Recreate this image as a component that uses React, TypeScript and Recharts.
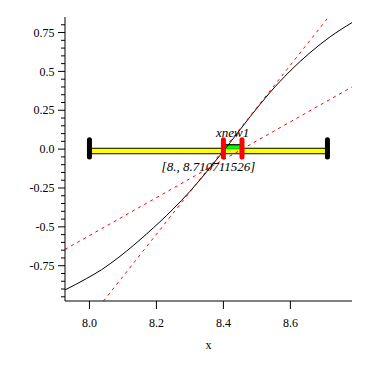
import React from "react";
import { ComposedChart, Line, XAxis, YAxis, ReferenceDot } from "recharts";

// black curve
const curveX = [7.927, 7.991, 8.036, 8.091, 8.171, 8.25, 8.3, 8.35, 8.39, 8.42, 8.48, 8.539, 8.599, 8.659, 8.719, 8.784];
const curveY = [-0.906, -0.833, -0.776, -0.69, -0.545, -0.385, -0.272, -0.146, -0.04, 0.042, 0.209, 0.364, 0.502, 0.621, 0.723, 0.814];

// red dashed lines (end points)
const steepX = [8.042, 8.714];
const steepY = [-0.977, 0.85];
const shallowX = [7.927, 8.784];
const shallowY = [-0.645, 0.4];

// interval bar and markers
const interval = [8.0, 8.710711526];
const markers = [8.4, 8.4555];
const intervalLabel = "[8., 8.710711526]";
const markerLabel = "xnew1";

const xDomain = [7.927, 8.784];
const yDomain = [-0.977, 0.85];
const xTicks = [8.0, 8.2, 8.4, 8.6];
const yTicks = [
  -0.95, -0.9, -0.85, -0.8, -0.75, -0.7, -0.65, -0.6, -0.55, -0.5, -0.45, -0.4, -0.35, -0.3, -0.25,
  -0.2, -0.15, -0.1, -0.05, 0, 0.05, 0.1, 0.15, 0.2, 0.25, 0.3, 0.35, 0.4, 0.45, 0.5, 0.55, 0.6,
  0.65, 0.7, 0.75, 0.8,
];
const yMajor = [-0.75, -0.5, -0.25, 0, 0.25, 0.5, 0.75];
const yMajorLabels = ["-0.75", "-0.5", "-0.25", "0.0", "0.25", "0.5", "0.75"];

const font = "'Liberation Serif', 'DejaVu Serif', serif";

const pts = (xs: number[], ys: number[]) => xs.map((x, i) => ({ x, y: ys[i] }));

const curveData = pts(curveX, curveY);
const steepData = pts(steepX, steepY);
const shallowData = pts(shallowX, shallowY);
const barData = pts(interval, [-0.012, -0.012]);
const greenData = pts(markers, [0.016, 0.016]);
const greenFill = pts(markers, [0.013, 0.013]);
const capLeft = pts([interval[0], interval[0]], [0.06, -0.05]);
const capRight = pts([interval[1], interval[1]], [0.06, -0.05]);
const markLeft = pts([markers[0], markers[0]], [0.06, -0.05]);
const markRight = pts([markers[1], markers[1]], [0.06, -0.05]);

function YTick(props: any) {
  const { x, y, payload } = props;
  const idx = yMajor.findIndex((v) => Math.abs(v - payload.value) < 1e-6);
  const major = idx >= 0;
  return (
    <g>
      <line x1={x - (major ? 7 : 4)} x2={x} y1={y} y2={y} stroke="#000" />
      {major && (
        <text x={x - 10.5} y={y} dy="0.35em" textAnchor="end" fontSize={12} fontFamily={font} fill="#000">
          {yMajorLabels[idx]}
        </text>
      )}
    </g>
  );
}

const common = { dataKey: "y", dot: false, isAnimationActive: false, legendType: "none" as const };

export default function App() {
  return (
    <div style={{ position: "absolute", left: 0, top: 0, background: "#fff" }}>
      <ComposedChart width={382} height={382} margin={{ top: 17, right: 30, bottom: 0, left: 0 }}>
        <XAxis
          type="number"
          dataKey="x"
          domain={xDomain}
          allowDataOverflow
          ticks={xTicks}
          interval={0}
          tickFormatter={(v: number) => v.toFixed(1)}
          tickSize={8}
          tickMargin={9}
          height={81}
          stroke="#000"
          tick={{ fill: "#000", fontSize: 12, fontFamily: font }}
          label={(p: any) => (
            <text
              x={p.viewBox.x + p.viewBox.width / 2}
              y={p.viewBox.y + 48}
              textAnchor="middle"
              fontSize={12}
              fontFamily={font}
              fill="#000"
            >
              x
            </text>
          )}
        />
        <YAxis
          type="number"
          dataKey="y"
          domain={yDomain}
          allowDataOverflow
          ticks={yTicks}
          interval={0}
          width={65}
          tickSize={0}
          tickMargin={0}
          tickLine={false}
          stroke="#000"
          tick={<YTick />}
        />
        <Line {...common} data={barData} stroke="#000" strokeWidth={6.5} />
        <Line {...common} data={barData} stroke="#ffff00" strokeWidth={4.3} />
        <Line {...common} data={greenData} stroke="#000" strokeWidth={5} />
        <Line {...common} data={greenFill} stroke="#00ff00" strokeWidth={3.5} />
        <Line {...common} data={curveData} type="monotone" stroke="#000" strokeWidth={1} />
        <Line {...common} data={steepData} stroke="#ff0000" strokeWidth={1} strokeDasharray="3 4" />
        <Line {...common} data={shallowData} stroke="#ff0000" strokeWidth={1} strokeDasharray="3 4" />
        <Line {...common} data={capLeft} stroke="#000" strokeWidth={5} strokeLinecap="round" />
        <Line {...common} data={capRight} stroke="#000" strokeWidth={5} strokeLinecap="round" />
        <Line {...common} data={markLeft} stroke="#ff0000" strokeWidth={5} strokeLinecap="round" />
        <Line {...common} data={markRight} stroke="#ff0000" strokeWidth={5} strokeLinecap="round" />
        <ReferenceDot
          x={(markers[0] + markers[1]) / 2}
          y={0.079}
          r={0}
          stroke="none"
          label={(p: any) => (
            <text x={p.viewBox.x} y={p.viewBox.y} textAnchor="middle" fontSize={13} fontStyle="italic" fontFamily={font} fill="#000">
              {markerLabel}
            </text>
          )}
        />
        <ReferenceDot
          x={(interval[0] + interval[1]) / 2}
          y={-0.141}
          r={0}
          stroke="none"
          label={(p: any) => (
            <text x={p.viewBox.x} y={p.viewBox.y} textAnchor="middle" fontSize={13} fontStyle="italic" fontFamily={font} fill="#000">
              {intervalLabel}
            </text>
          )}
        />
      </ComposedChart>
    </div>
  );
}
